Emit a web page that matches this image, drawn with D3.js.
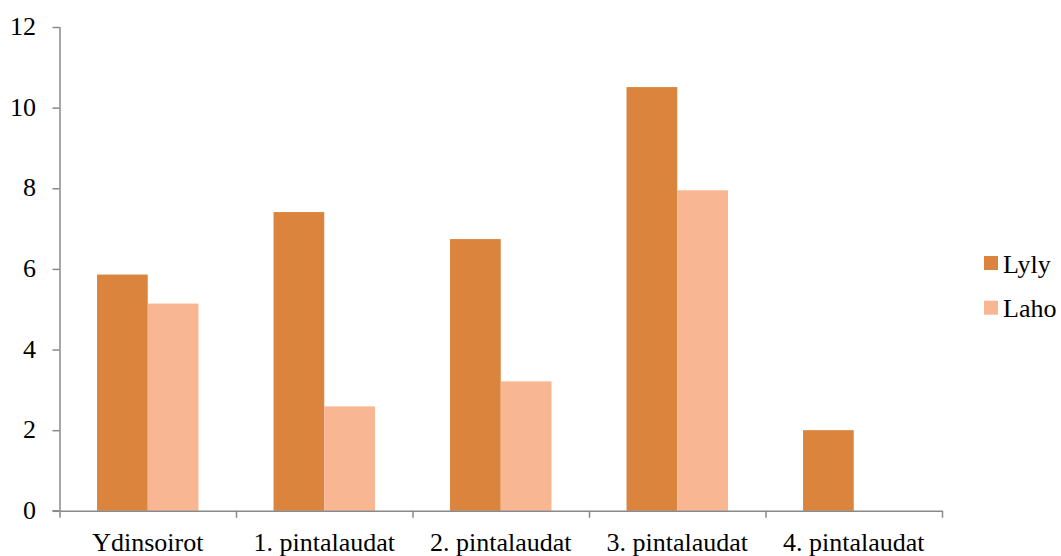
<!DOCTYPE html>
<html>
<head>
<meta charset="utf-8">
<script src="https://cdn.jsdelivr.net/npm/d3@7"></script>
</head>
<body style="margin:0;background:#fff">
<svg id="chart" width="1061" height="556" style="font-family:'Times New Roman',Tinos,'Liberation Serif',serif"></svg>
<script>
// Categories and series values
const categories = ["Ydinsoirot", "1. pintalaudat", "2. pintalaudat", "3. pintalaudat", "4. pintalaudat"];
const seriesNames = ["Lyly", "Laho"];
const lylyValues = [5.86, 7.41, 6.74, 10.51, 2.0];
const lahoValues = [5.14, 2.59, 3.21, 7.95, 0];
const yTicks = [0, 2, 4, 6, 8, 10, 12];

const colors = { "Lyly": "#DB843E", "Laho": "#F8B692" };
const axisColor = "#898989";
const serif = "'Times New Roman', Tinos, 'Liberation Serif', serif";

const rows = categories.map((c, i) => ({ category: c, Lyly: lylyValues[i], Laho: lahoValues[i] }));

const svg = d3.select("#chart");
const plot = { left: 59.5, right: 942, top: 27, bottom: 510.8 };

const x = d3.scaleBand().domain(categories).range([plot.left, plot.right]).paddingInner(0).paddingOuter(0);
const xs = d3.scaleBand().domain(seriesNames).range([0, x.bandwidth()]).paddingInner(0).paddingOuter(0.74);
const y = d3.scaleLinear().domain([0, 12]).range([plot.bottom, plot.top]);

// Bars
const groups = svg.append("g").selectAll("g")
  .data(rows).join("g")
  .attr("transform", d => `translate(${x(d.category)},0)`);

groups.selectAll("rect")
  .data(d => seriesNames.map(s => ({ key: s, value: d[s] })).filter(v => v.value > 0))
  .join("rect")
  .attr("x", d => xs(d.key))
  .attr("width", xs.bandwidth())
  .attr("y", d => y(d.value))
  .attr("height", d => y(0) - y(d.value))
  .attr("fill", d => colors[d.key]);

// Y axis (line and ticks only; labels drawn below)
const yAxis = svg.append("g")
  .attr("transform", `translate(${plot.left},0)`)
  .call(d3.axisLeft(y).tickValues(yTicks).tickSize(7).tickFormat("").tickSizeOuter(0));

// X axis: boundary ticks between categories
const xb = d3.scaleLinear().domain([0, categories.length]).range([plot.left, plot.right]);
const xAxis = svg.append("g")
  .attr("transform", `translate(0,${plot.bottom})`)
  .call(d3.axisBottom(xb).tickValues(d3.range(categories.length + 1)).tickFormat("").tickSize(7).tickSizeOuter(0));

[yAxis, xAxis].forEach(g => {
  g.selectAll("text").remove();
  g.selectAll(".domain, line").attr("stroke", axisColor).attr("stroke-width", 1.5);
});
yAxis.select(".domain").attr("d", `M0.5,${plot.top}V${plot.bottom}`);
svg.append("line")
  .attr("x1", plot.left - 7).attr("x2", plot.left)
  .attr("y1", plot.bottom).attr("y2", plot.bottom)
  .attr("stroke", axisColor).attr("stroke-width", 1.5);

// Tick labels
const labels = svg.append("g").style("font-family", serif);
labels.selectAll("text.ylab").data(yTicks).join("text")
  .attr("class", "ylab")
  .attr("x", 36).attr("y", d => y(d) + 8)
  .attr("text-anchor", "end")
  .attr("font-size", 26)
  .style("font-family", serif)
  .text(d => d);

labels.selectAll("text.xlab").data(categories).join("text")
  .attr("class", "xlab")
  .attr("x", d => x(d) + x.bandwidth() / 2).attr("y", 551)
  .attr("text-anchor", "middle")
  .attr("font-size", 26)
  .style("font-family", serif)
  .text(d => d);

// Legend
const legend = svg.append("g").attr("transform", "translate(984,256)").style("font-family", serif);
const items = legend.selectAll("g").data(seriesNames).join("g")
  .attr("transform", (d, i) => `translate(0,${i * 44.7})`);
items.append("rect").attr("width", 14).attr("height", 14).attr("fill", d => colors[d]);
items.append("text").attr("x", 19).attr("y", 16.5)
  .attr("font-size", 26)
  .style("font-family", serif)
  .text(d => d);
</script>
</body>
</html>
